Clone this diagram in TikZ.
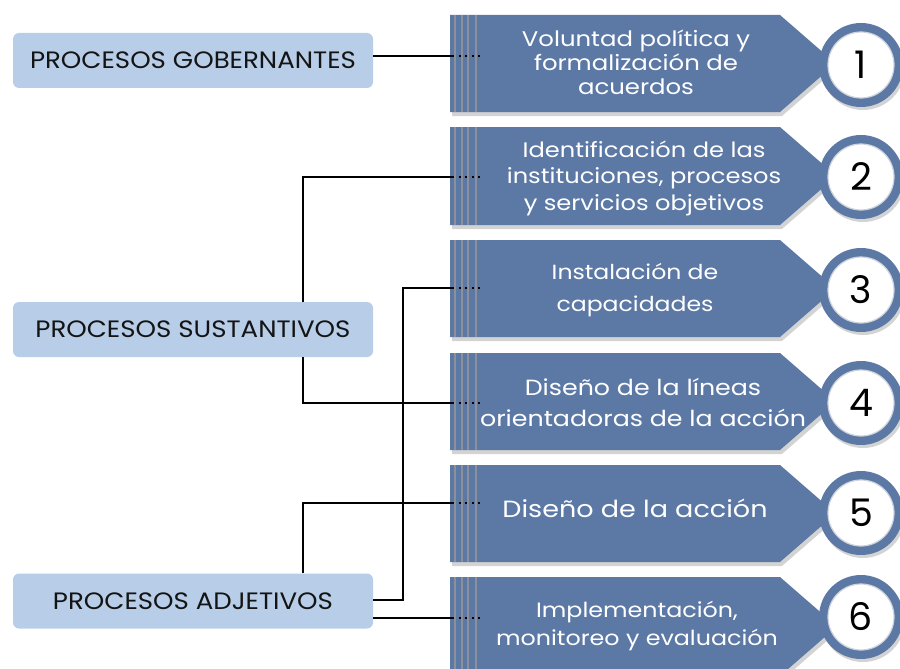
\documentclass[tikz,border=0pt]{standalone}
\usepackage{fontspec}
\setmainfont{Poppins}
\newfontfamily\widefont[FakeStretch=1.15]{Poppins}
\newfontfamily\boxfont[FakeStretch=1.1]{Poppins}
\usetikzlibrary{shadows}
\definecolor{bannerblue}{RGB}{92,121,166}
\definecolor{boxblue}{RGB}{184,205,232}
\definecolor{stripegray}{RGB}{140,144,154}
\definecolor{txtdark}{RGB}{20,20,20}
\tikzset{
  leftbox/.style={fill=boxblue, rounded corners=6pt, minimum width=360pt, minimum height=55pt, inner sep=0pt, text=txtdark, font=\boxfont\fontsize{23.7}{24}\selectfont},
  conn/.style={line width=1.6pt, black},
  dotline/.style={line width=2.3pt, black, dash pattern=on 2pt off 4.6pt},
  banner/.style={fill=bannerblue, drop shadow={shadow xshift=2pt, shadow yshift=-4pt, opacity=0.35}},
  stripe/.style={stripegray, line width=2pt},
  ring/.style={circle, fill=bannerblue, minimum size=84pt, inner sep=0pt, drop shadow={shadow xshift=2pt, shadow yshift=-3pt, opacity=0.35}},
  numdisc/.style={circle, fill=white, draw={rgb,255:red,205;green,210;blue,220}, line width=1.2pt, minimum size=66pt, inner sep=0pt, text=black, font=\fontsize{38}{38}\selectfont},
  btext/.style={text=white, align=center, inner sep=0pt, anchor=base}
}
\begin{document}
\begin{tikzpicture}[x=1pt,y=-1pt]
\useasboundingbox (0,0) rectangle (900,669);

% banners, stripes, dotted ends and number circles
\foreach \i/\t/\b/\d/\c in {1/15/112/56/65, 2/127/225/177/177, 3/240/337/288/290, 4/353/450/403/403, 5/465/562/503/513, 6/577/676/618/617} {
  \fill[banner] (450,\t) -- (780,\t) -- ({780+1.15*(\b-\t)/2},{(\t+\b)/2}) -- (780,\b) -- (450,\b) -- cycle;
  \foreach \s in {455,461.5,468,476} { \draw[stripe] (\s,\t) -- (\s,\b); }
  \coordinate (d\i) at (452,\d);
  \coordinate (e\i) at (480,\d);
  \draw[dotline] (d\i) -- (e\i);
  \node[ring] (r\i) at (861,\c) {};
  \node[numdisc] (n\i) at (r\i) {\i};
}

% banner texts (anchor base = baseline of the last line)
\node[btext, font=\widefont\fontsize{21.2}{24}\selectfont] (t1) at (636,95) {Voluntad política y\\formalización de\\acuerdos};
\node[btext, font=\widefont\fontsize{21}{26.5}\selectfont] (t2) at (644,210) {Identificación de las\\instituciones, procesos\\y servicios objetivos};
\node[btext, font=\widefont\fontsize{20.5}{32}\selectfont] (t3) at (635,311) {Instalación de\\capacidades};
\node[btext, font=\widefont\fontsize{22}{31}\selectfont] (t4) at (643,426) {Diseño de la líneas\\orientadoras de la acción};
\node[btext, font=\widefont\fontsize{23.5}{24}\selectfont] (t5) at (635,517) {Diseño de la acción};
\node[btext, font=\widefont\fontsize{20.7}{28}\selectfont] (t6) at (637,645) {Implementación,\\monitoreo y evaluación};

% left boxes
\node[leftbox] (gob) at (193,60.5) {PROCESOS GOBERNANTES};
\node[leftbox] (sus) at (193,329.5) {PROCESOS SUSTANTIVOS};
\node[leftbox] (adj) at (193,601) {PROCESOS ADJETIVOS};

% connectors
\draw[conn] (gob.east |- d1) -- (d1);
\draw[conn] (303,0 |- sus.north) -- (303,177) -- (d2);
\draw[conn] (303,0 |- sus.south) -- (303,403) -- (d4);
\draw[conn] (adj.east |- 0,600) -- (403,600) -- (403,288) -- (d3);
\draw[conn] (303,0 |- adj.north) -- (303,503) -- (d5);
\draw[conn] (adj.east |- d6) -- (d6);
\end{tikzpicture}
\end{document}
